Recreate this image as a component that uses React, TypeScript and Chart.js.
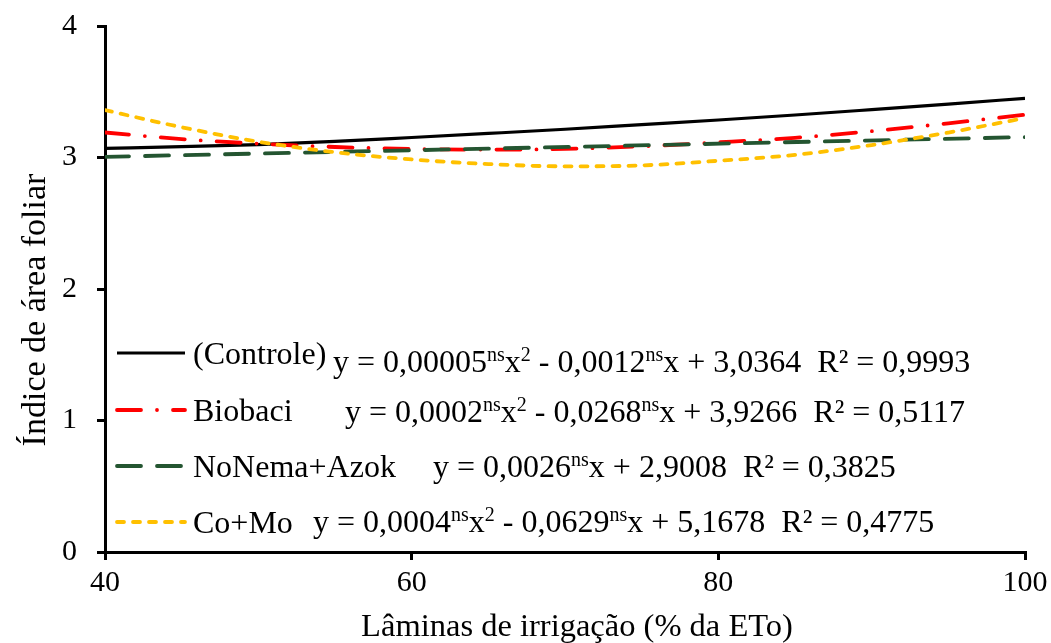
import React, { useEffect, useRef } from "react";
import { Chart, registerables } from "chart.js";

Chart.register(...registerables);

const FONT = '"Liberation Serif", "Times New Roman", Times, serif';

// ---- data ----
const xValues = [40, 45, 50, 55, 60, 65, 70, 75, 80, 85, 90, 95, 100];
const controle = [3.07, 3.082, 3.098, 3.122, 3.152, 3.183, 3.215, 3.25, 3.285, 3.323, 3.364, 3.406, 3.45];
const biobaci = [3.19, 3.14, 3.105, 3.08, 3.065, 3.06, 3.065, 3.085, 3.115, 3.15, 3.2, 3.26, 3.325];
const noNemaX = [40, 100];
const noNema = [3.005, 3.155];
const coMo = [3.36, 3.23, 3.12, 3.04, 2.985, 2.95, 2.933, 2.94, 2.975, 3.02, 3.095, 3.19, 3.3];

const seriesLabels = ["(Controle)", "Biobaci", "NoNema+Azok", "Co+Mo"];
const xTicks = [40, 60, 80, 100];
const yTicks = [0, 1, 2, 3, 4];
const xTitle = "Lâminas de irrigação (% da ETo)";
const yTitle = "Índice de área foliar";

type Seg = { t: string; sup?: boolean };
const equations: Seg[][] = [
  [{ t: "y = 0,00005" }, { t: "ns", sup: true }, { t: "x" }, { t: "2", sup: true }, { t: " - 0,0012" }, { t: "ns", sup: true }, { t: "x + 3,0364  R² = 0,9993" }],
  [{ t: "y = 0,0002" }, { t: "ns", sup: true }, { t: "x" }, { t: "2", sup: true }, { t: " - 0,0268" }, { t: "ns", sup: true }, { t: "x + 3,9266  R² = 0,5117" }],
  [{ t: "y = 0,0026" }, { t: "ns", sup: true }, { t: "x + 2,9008  R² = 0,3825" }],
  [{ t: "y = 0,0004" }, { t: "ns", sup: true }, { t: "x" }, { t: "2", sup: true }, { t: " - 0,0629" }, { t: "ns", sup: true }, { t: "x + 5,1678  R² = 0,4775" }],
];

// ---- styles ----
const colors = ["#000000", "#FF0000", "#245531", "#FFC000"];
const widths = [3.2, 3.8, 3.8, 3.8];
const dashes = [[], [24, 16, 0, 16], [24, 16], [7, 9]];
const caps: CanvasLineCap[] = ["butt", "round", "round", "round"];

const toPoints = (xs: number[], ys: number[]) => xs.map((x, i) => ({ x, y: ys[i] }));

export default function App() {
  const ref = useRef<HTMLCanvasElement | null>(null);

  useEffect(() => {
    document.body.style.margin = "0";
    const canvas = ref.current;
    if (!canvas) return;

    const textPlugin = {
      id: "customText",
      afterDraw(chart: any) {
        const ctx: CanvasRenderingContext2D = chart.ctx;
        ctx.save();
        const lineY = [353, 410, 466, 522];
        const labelBase = [364, 421, 477, 533];
        const eqX = [333, 345, 433, 313];
        const eqBase = [372, 422, 477, 532];
        for (let i = 0; i < 4; i++) {
          ctx.beginPath();
          ctx.strokeStyle = colors[i];
          ctx.lineWidth = widths[i];
          ctx.lineCap = caps[i];
          ctx.setLineDash(dashes[i]);
          ctx.moveTo(117, lineY[i]);
          ctx.lineTo(185, lineY[i]);
          ctx.stroke();
          ctx.setLineDash([]);
          ctx.fillStyle = "#000";
          ctx.textAlign = "left";
          ctx.textBaseline = "alphabetic";
          ctx.font = `32px ${FONT}`;
          ctx.fillText(seriesLabels[i], 193, labelBase[i]);
          let x = eqX[i];
          for (const s of equations[i]) {
            ctx.font = s.sup ? `20px ${FONT}` : `32px ${FONT}`;
            ctx.fillText(s.t, x, eqBase[i] - (s.sup ? 11 : 0));
            x += ctx.measureText(s.t).width;
          }
        }
        // axis titles
        ctx.textAlign = "center";
        ctx.textBaseline = "alphabetic";
        ctx.font = `32.5px ${FONT}`;
        ctx.fillText(xTitle, 577, 636);
        ctx.font = `34px ${FONT}`;
        ctx.translate(45, 310);
        ctx.rotate(-Math.PI / 2);
        ctx.fillText(yTitle, 0, 0);
        ctx.restore();
      },
    };

    const mk = (i: number, data: any[]) => ({
      label: seriesLabels[i],
      data,
      borderColor: colors[i],
      backgroundColor: colors[i],
      borderWidth: widths[i],
      borderDash: dashes[i],
      borderCapStyle: caps[i],
      pointRadius: 0,
      fill: false,
      cubicInterpolationMode: "monotone" as const,
    });

    const chart = new Chart(canvas, {
      type: "line",
      data: {
        datasets: [
          mk(3, toPoints(xValues, coMo)),
          mk(2, toPoints(noNemaX, noNema)),
          mk(1, toPoints(xValues, biobaci)),
          mk(0, toPoints(xValues, controle)),
        ],
      },
      options: {
        animation: false,
        responsive: false,
        devicePixelRatio: 1,
        layout: { padding: { top: 26, right: 26, left: 0, bottom: 0 } },
        plugins: { legend: { display: false }, tooltip: { enabled: false } },
        scales: {
          x: {
            type: "linear",
            min: 40,
            max: 100,
            afterBuildTicks: (s: any) => {
              s.ticks = xTicks.map((v) => ({ value: v }));
            },
            afterFit: (s: any) => {
              s.height = 91;
              s.paddingLeft = 0;
              s.paddingRight = 0;
            },
            ticks: { color: "#000", font: { family: FONT, size: 30 }, padding: 5, maxRotation: 0 },
            grid: { display: true, drawOnChartArea: false, drawTicks: true, tickLength: 8, color: "#000", lineWidth: 3 },
            border: { display: true, color: "#000", width: 3 },
          },
          y: {
            type: "linear",
            min: 0,
            max: 4,
            afterBuildTicks: (s: any) => {
              s.ticks = yTicks.map((v) => ({ value: v }));
            },
            afterFit: (s: any) => {
              s.width = 105;
              s.paddingTop = 0;
              s.paddingBottom = 0;
            },
            ticks: { color: "#000", font: { family: FONT, size: 30 }, padding: 20 },
            grid: { display: true, drawOnChartArea: false, drawTicks: true, tickLength: 8, color: "#000", lineWidth: 3 },
            border: { display: true, color: "#000", width: 3 },
          },
        },
      },
      plugins: [textPlugin],
    });
    return () => chart.destroy();
  }, []);

  return (
    <div style={{ width: 1051, height: 643, background: "#fff" }}>
      <canvas ref={ref} width={1051} height={643} style={{ display: "block", width: 1051, height: 643 }} />
    </div>
  );
}
